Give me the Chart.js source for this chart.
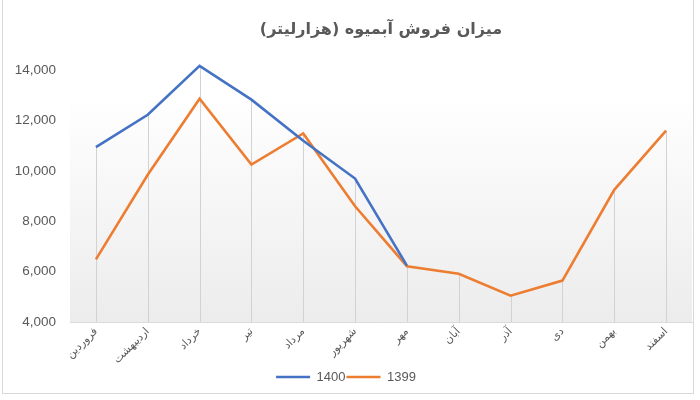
<!DOCTYPE html>
<html lang="fa">
<head>
<meta charset="UTF-8">
<title>میزان فروش آبمیوه</title>
<style>
    body { margin: 0; background: #fff; }
    .wrap { position: relative; width: 700px; height: 400px; }
    .frame { position: absolute; left: 2px; top: -2px; width: 690px; height: 394px; border: 1px solid #d9d9d9; pointer-events: none; }
</style>
<script src="https://cdn.jsdelivr.net/npm/chart.js@4.4.1/dist/chart.umd.min.js"></script>
</head>
<body>
<div class="wrap">
    <canvas id="juiceChart" width="700" height="400"></canvas>
    <div class="frame"></div>
</div>
<script>
    var months = ['فروردین', 'اردیبهشت', 'خرداد', 'تیر', 'مرداد', 'شهریور', 'مهر', 'آبان', 'آذر', 'دی', 'بهمن', 'اسفند'];
    var sales1400 = [10950, 12230, 14170, 12830, 11200, 9700, 6240, null, null, null, null, null];
    var sales1399 = [6490, 9850, 12870, 10250, 11490, 8600, 6220, 5920, 5050, 5650, 9250, 11600];
    var yTicks = [4000, 6000, 8000, 10000, 12000, 14000];

    // plot area shading + drop lines from the highest point to the axis
    var dropLines = {
        id: 'dropLines',
        beforeDatasetsDraw: function(chart) {
            var ctx = chart.ctx;
            var area = chart.chartArea;
            var x = chart.scales.x, y = chart.scales.y;
            ctx.save();
            var grad = ctx.createLinearGradient(0, area.top + 22, 0, area.bottom);
            grad.addColorStop(0, '#ffffff');
            grad.addColorStop(1, '#ececec');
            ctx.fillStyle = grad;
            ctx.fillRect(area.left, area.top + 22, area.right - area.left, area.bottom - area.top - 22);
            ctx.strokeStyle = '#d2d2d2';
            ctx.lineWidth = 1;
            for (var i = 0; i < months.length; i++) {
                var vals = chart.data.datasets.map(function(d) { return d.data[i]; }).filter(function(v) { return v != null; });
                if (!vals.length) continue;
                var px = Math.round(x.getPixelForValue(i)) + 0.5;
                ctx.beginPath();
                ctx.moveTo(px, y.getPixelForValue(Math.max.apply(null, vals)));
                ctx.lineTo(px, area.bottom);
                ctx.stroke();
            }
            ctx.restore();
        }
    };

    var ctx = document.getElementById('juiceChart').getContext('2d');
    var juiceChart = new Chart(ctx, {
        type: 'line',
        data: {
            labels: months,
            datasets: [
                { label: '1400', data: sales1400, borderColor: '#4472C4', backgroundColor: '#4472C4', borderWidth: 2.6, pointRadius: 0, tension: 0, clip: false },
                { label: '1399', data: sales1399, borderColor: '#ED7D31', backgroundColor: '#ED7D31', borderWidth: 2.6, pointRadius: 0, tension: 0, clip: false }
            ]
        },
        options: {
            responsive: false,
            animation: false,
            layout: { padding: { top: 20, right: 8, bottom: 6.5, left: 0 } },
            plugins: {
                title: {
                    display: true,
                    fullSize: false,
                    // RLM keeps the closing bracket inside the right-to-left run
                    text: '\u200Fمیزان فروش آبمیوه (هزارلیتر)\u200F',
                    color: '#595959',
                    font: { family: 'DejaVu Sans', size: 16, weight: 'bold' },
                    padding: { top: 0, bottom: 31 }
                },
                legend: {
                    position: 'bottom',
                    labels: {
                        usePointStyle: true,
                        pointStyle: 'line',
                        pointStyleWidth: 34,
                        color: '#595959',
                        font: { family: 'Liberation Sans', size: 13 },
                        padding: 1
                    }
                },
                tooltip: { enabled: false }
            },
            scales: {
                x: {
                    offset: true,
                    grid: { display: false, drawTicks: false },
                    border: { display: true, color: '#d9d9d9' },
                    ticks: {
                        color: '#595959',
                        font: { family: 'DejaVu Sans', size: 11 },
                        minRotation: 45,
                        maxRotation: 45,
                        autoSkip: false,
                        padding: 3
                    }
                },
                y: {
                    min: 4000,
                    max: 14000,
                    grid: { display: false },
                    border: { display: false },
                    ticks: {
                        color: '#595959',
                        font: { family: 'Liberation Sans', size: 13.5 },
                        padding: 6,
                        callback: function(v) { return v.toLocaleString('en-US'); }
                    },
                    afterBuildTicks: function(scale) {
                        scale.ticks = yTicks.map(function(v) { return { value: v }; });
                    },
                    afterFit: function(scale) { scale.width = 70; }
                }
            }
        },
        plugins: [dropLines]
    });
</script>
</body>
</html>
